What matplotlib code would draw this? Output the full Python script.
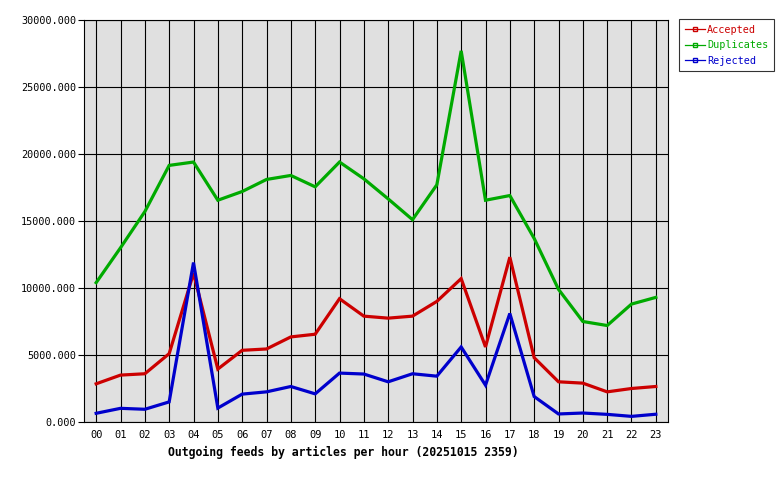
import numpy as np
import matplotlib
matplotlib.use("Agg")
import matplotlib.pyplot as plt
from matplotlib.ticker import FormatStrFormatter

# hourly article counts
hours = ["00", "01", "02", "03", "04", "05", "06", "07", "08", "09", "10", "11",
         "12", "13", "14", "15", "16", "17", "18", "19", "20", "21", "22", "23"]
accepted = [2850, 3500, 3600, 5100, 11100, 3950, 5350, 5450, 6350, 6550, 9200, 7900,
            7750, 7900, 9000, 10700, 5600, 12300, 4800, 3000, 2900, 2250, 2500, 2650]
duplicates = [10400, 13000, 15700, 19150, 19400, 16550, 17200, 18100, 18400, 17550, 19400, 18150,
              16650, 15100, 17700, 27700, 16550, 16900, 13700, 9900, 7500, 7200, 8800, 9300]
rejected = [650, 1020, 950, 1500, 11900, 1040, 2080, 2250, 2650, 2100, 3650, 3580,
            3000, 3600, 3420, 5600, 2750, 8100, 1900, 600, 670, 570, 420, 580]

series = [("Accepted", accepted, "#cc0000"),
          ("Duplicates", duplicates, "#00aa00"),
          ("Rejected", rejected, "#0000cc")]

plt.rcParams['font.family'] = ['DejaVu Sans Mono']

fig = plt.figure(figsize=(7.8, 4.8), dpi=100, facecolor="white")
ax = fig.add_axes([84 / 780, 58 / 480, 584 / 780, 402 / 480])
ax.set_facecolor("#e0e0e0")

x = np.arange(len(hours))
handles = []
for name, vals, col in series:
    ax.plot(x, vals, color=col, linewidth=2.3, solid_joinstyle="miter", zorder=3)
    # legend proxy: thin line with a small square marker
    h, = ax.plot([], [], color=col, linewidth=0.9, marker="s", markersize=2.5,
                 markerfacecolor="none", markeredgecolor=col, label=name)
    handles.append(h)

ax.set_xlim(-0.5, 23.5)
ax.set_ylim(0, 30000)
ax.set_xticks(x)
ax.set_xticklabels(hours)
ax.set_yticks(np.arange(0, 30001, 5000))
ax.yaxis.set_major_formatter(FormatStrFormatter("%.3f"))
ax.grid(True, color="black", linewidth=0.8, zorder=1)
ax.set_axisbelow(True)
ax.tick_params(axis="x", length=0, pad=6, labelsize=7.5)
ax.tick_params(axis="y", length=4, width=0.8, pad=1.5, labelsize=7.3)
for sp in ax.spines.values():
    sp.set_color("black")
    sp.set_linewidth(0.8)

# title sits left of the axes centre in the reference
fig.text(343 / 780, 1 - 452 / 480, "Outgoing feeds by articles per hour (20251015 2359)",
         fontsize=8.3, fontweight="bold", ha="center", va="center")

leg = fig.legend(handles=handles, loc="upper left",
                 bbox_to_anchor=(679 / 780, 1 - 19 / 480),
                 fontsize=7.3, frameon=True, fancybox=False, handlelength=2.0,
                 handletextpad=0.2, borderpad=0.55, labelspacing=0.55, borderaxespad=0)
leg.get_frame().set_edgecolor("black")
leg.get_frame().set_linewidth(0.8)
for txt, (_, _, col) in zip(leg.get_texts(), series):
    txt.set_color(col)

fig.savefig("out.png", dpi=100, facecolor="white")
